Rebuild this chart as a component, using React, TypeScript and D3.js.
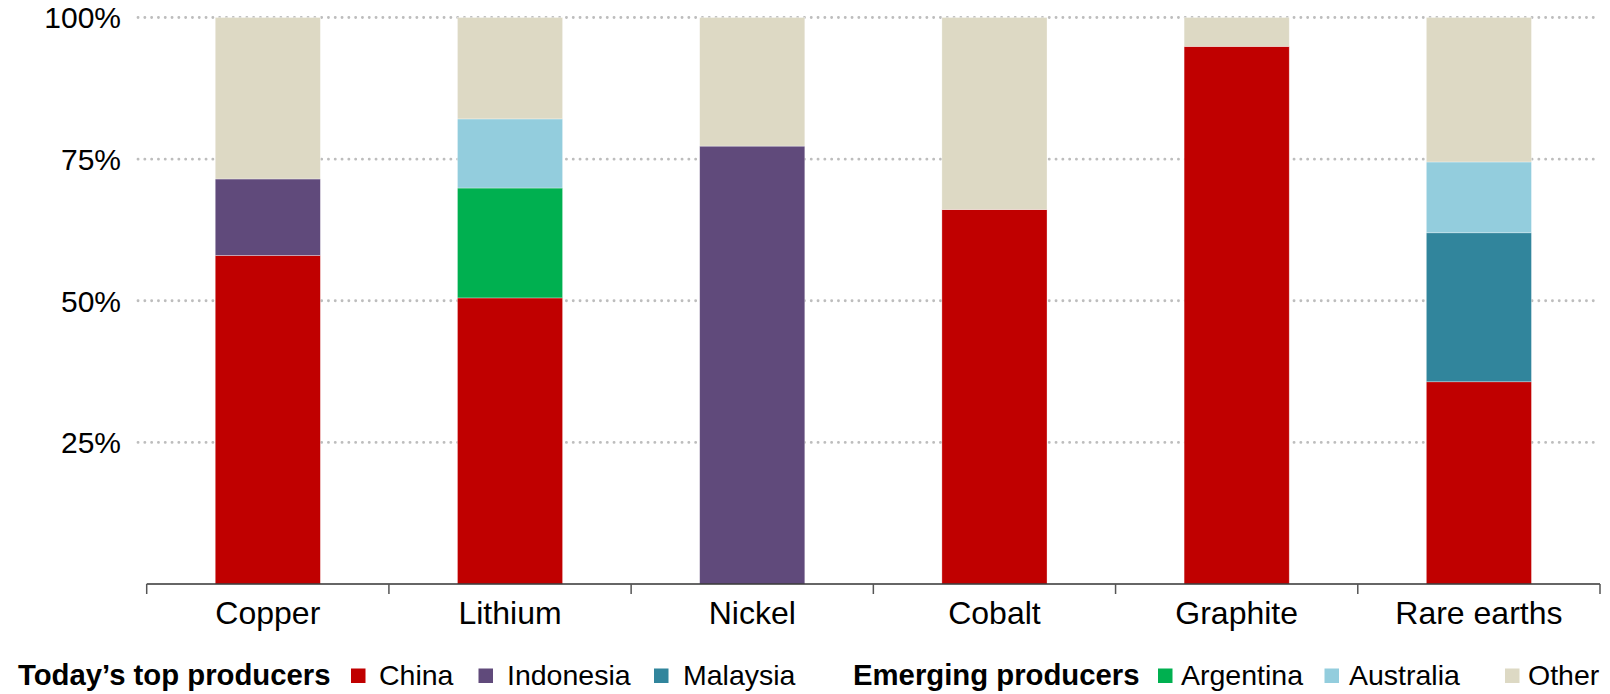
import React from "react";
import * as d3 from "d3";

const categories = ["Copper", "Lithium", "Nickel", "Cobalt", "Graphite", "Rare earths"];
const seriesKeys = ["China", "Indonesia", "Malaysia", "Argentina", "Australia", "Other"];
const china = [58, 50.5, 0, 66.1, 94.9, 35.7];
const indonesia = [13.5, 0, 77.3, 0, 0, 0];
const malaysia = [0, 0, 0, 0, 0, 26.3];
const argentina = [0, 19.4, 0, 0, 0, 0];
const australia = [0, 12.2, 0, 0, 0, 12.5];
const other = [28.5, 17.9, 22.7, 33.9, 5.1, 25.5];
const yTicks = [25, 50, 75, 100];

const colors: Record<string, string> = {
  China: "#C00000",
  Indonesia: "#604A7B",
  Malaysia: "#31859C",
  Argentina: "#00B050",
  Australia: "#93CDDD",
  Other: "#DDD9C4",
};

const legendGroups = [
  { title: "Today\u2019s top producers", x: 18, items: [
    { key: "China", sx: 351, tx: 379 },
    { key: "Indonesia", sx: 478.5, tx: 507 },
    { key: "Malaysia", sx: 654, tx: 683 },
  ] },
  { title: "Emerging producers", x: 853, items: [
    { key: "Argentina", sx: 1158, tx: 1181 },
    { key: "Australia", sx: 1324.5, tx: 1349 },
    { key: "Other", sx: 1505, tx: 1528 },
  ] },
];

const W = 1610;
const H = 694;
const FONT = "'Liberation Sans', Arial, Helvetica, sans-serif";

export default function App() {
  const rows = categories.map((c, i) => ({
    category: c,
    China: china[i],
    Indonesia: indonesia[i],
    Malaysia: malaysia[i],
    Argentina: argentina[i],
    Australia: australia[i],
    Other: other[i],
  }));
  const stacked = d3.stack<any>().keys(seriesKeys)(rows);

  const x = d3.scaleBand<string>().domain(categories).range([146.7, 1600]).paddingInner(0.566).paddingOuter(0.283);
  const xBand = d3.scaleBand<string>().domain(categories).range([146.7, 1600]).padding(0);
  const y = d3.scaleLinear().domain([0, 100]).range([584, 17.5]);

  const tickXs = [...categories.map((c) => xBand(c) as number), 1600];

  return (
    <svg width={W} height={H} style={{ position: "absolute", left: 0, top: 0, display: "block", background: "#fff" }} fontFamily={FONT}>
      {/* gridlines */}
      {yTicks.map((t) => (
        <line key={"g" + t} x1={138} x2={1597} y1={y(t)} y2={y(t)} stroke="#BDBDBD" strokeWidth={2.8} strokeLinecap="round" strokeDasharray="0.1 6.7" />
      ))}
      {/* y labels */}
      {yTicks.map((t) => (
        <text key={"yl" + t} x={121} y={y(t)} dy="0.36em" textAnchor="end" fontSize={30} fill="#000">
          {d3.format("d")(t) + "%"}
        </text>
      ))}
      {/* bars */}
      {stacked.map((s) => (
        <g key={s.key} fill={colors[s.key]}>
          {s.map((d, i) =>
            d[1] - d[0] > 0 ? (
              <rect key={i} x={x(categories[i])} width={x.bandwidth()} y={y(d[1])} height={y(d[0]) - y(d[1])} stroke="#ffffff" strokeOpacity={0.45} strokeWidth={0.7} />
            ) : null
          )}
        </g>
      ))}
      {/* x axis */}
      <line x1={146.7} x2={1600} y1={584} y2={584} stroke="#333" strokeWidth={1.5} />
      {tickXs.map((tx, i) => (
        <line key={"t" + i} x1={tx} x2={tx} y1={584} y2={594} stroke="#555" strokeWidth={1.5} />
      ))}
      {categories.map((c) => (
        <text key={"xl" + c} x={(xBand(c) as number) + xBand.bandwidth() / 2} y={624} textAnchor="middle" fontSize={32} fill="#000">
          {c}
        </text>
      ))}
      {/* legend */}
      {legendGroups.map((g) => (
        <g key={g.title}>
          <text x={g.x} y={685} fontSize={29.3} fontWeight="bold" fill="#000">{g.title}</text>
          {g.items.map((it) => (
            <g key={it.key}>
              <rect x={it.sx} y={668.5} width={14.5} height={14.5} fill={colors[it.key]} />
              <text x={it.tx} y={685} fontSize={28.5} fill="#000">{it.key}</text>
            </g>
          ))}
        </g>
      ))}
    </svg>
  );
}
